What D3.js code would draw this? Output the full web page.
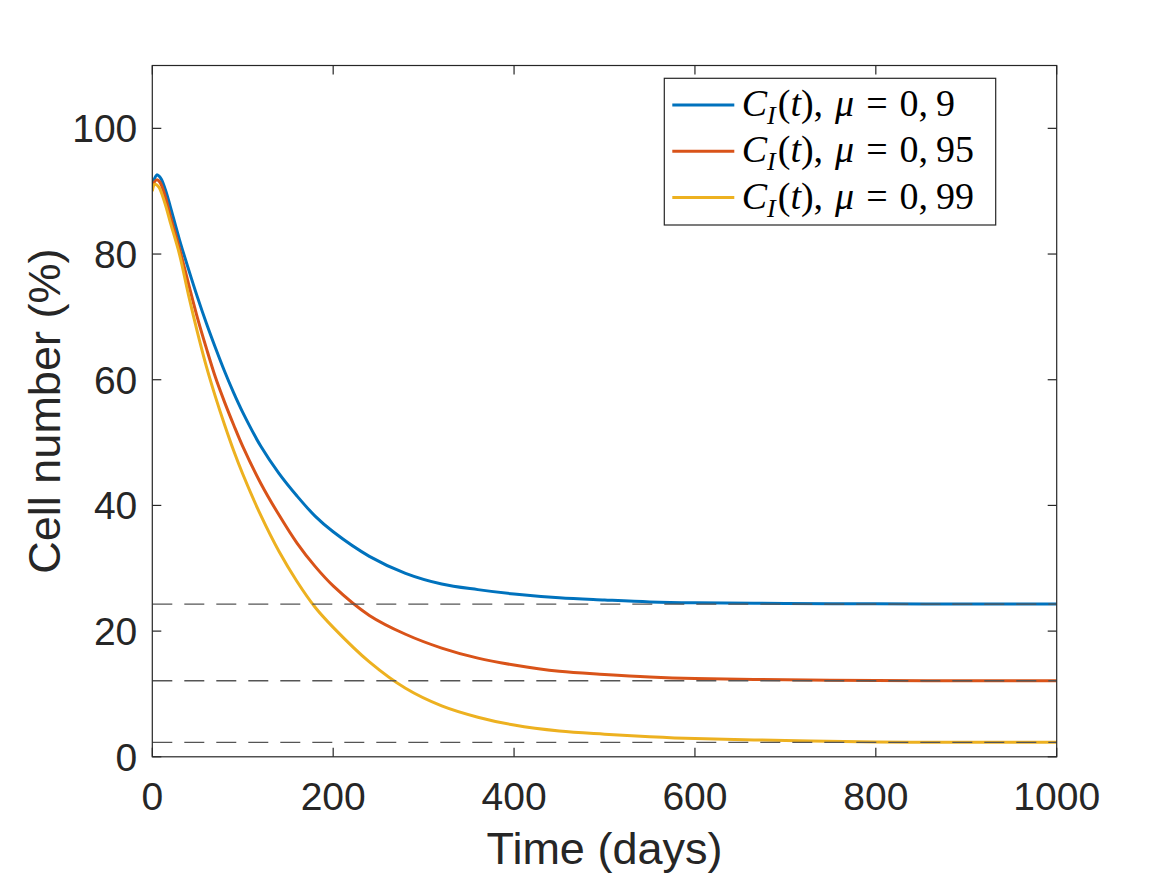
<!DOCTYPE html>
<html>
<head>
<meta charset="utf-8">
<script src="https://cdn.jsdelivr.net/npm/d3@7"></script>
<style>
  body { margin: 0; background: #fff; }
  svg { display: block; }
</style>
</head>
<body>
<svg id="chart" width="1167" height="875"></svg>
<script>
// values
const times = [0, 2.5, 5, 7.5, 10, 15, 20, 30, 40, 50, 60, 70, 80, 90, 100, 120, 140, 160, 180, 200,
               240, 280, 320, 360, 400, 450, 500, 550, 600, 700, 800, 900, 1000];

const mu90 = [90.8, 92.0, 92.6, 92.4, 91.9, 90.0, 87.5, 82.3, 77.6, 73.1, 68.9, 65.0, 61.3, 57.9, 54.8, 49.4, 45.1, 41.5, 38.3, 35.8,
              31.9, 29.2, 27.5, 26.6, 25.9, 25.3, 24.95, 24.65, 24.5, 24.4, 24.35, 24.3, 24.3];
const mu95 = [90.4, 91.5, 91.8, 91.6, 91.0, 88.8, 86.0, 80.9, 75.3, 69.8, 64.9, 60.3, 56.4, 52.8, 49.4, 43.5, 38.5, 34.0, 30.3, 27.2,
              22.5, 19.5, 17.3, 15.7, 14.6, 13.6, 13.1, 12.7, 12.45, 12.25, 12.15, 12.1, 12.1];
const mu99 = [90.0, 91.1, 91.0, 90.6, 89.8, 87.6, 85.0, 80.0, 73.5, 67.5, 62.0, 57.2, 52.8, 48.7, 45.0, 38.4, 32.7, 27.9, 23.8, 20.6,
              15.1, 10.9, 8.1, 6.3, 5.05, 4.1, 3.6, 3.2, 2.9, 2.6, 2.35, 2.3, 2.3];

const muDecimals = ["9", "95", "99"];
const steadyStates = [24.3, 12.1, 2.3];
const colors = ["#0072BD", "#D95319", "#EDB120"];

const xTicks = [0, 200, 400, 600, 800, 1000];
const yTicks = [0, 20, 40, 60, 80, 100];

const series = [mu90, mu95, mu99];

const svg = d3.select("#chart");

const plotLeft = 152.3, plotRight = 1056.7, plotTop = 65.5, plotBottom = 756.8;

const x = d3.scaleLinear().domain([0, 1000]).range([plotLeft, plotRight]);
const y = d3.scaleLinear().domain([0, 110]).range([plotBottom, plotTop]);

const axisColor = "#262626";
const tickFont = "'Liberation Sans', Arial, Helvetica, sans-serif";

svg.append("defs")
  .append("clipPath")
  .attr("id", "plot-clip")
  .append("rect")
  .attr("x", plotLeft)
  .attr("y", plotTop)
  .attr("width", plotRight - plotLeft)
  .attr("height", plotBottom - plotTop);

const plot = svg.append("g").attr("clip-path", "url(#plot-clip)");

const line = d3.line()
  .x((d, i) => x(times[i]))
  .y(d => y(d))
  .curve(d3.curveCatmullRom.alpha(0.5));

plot.selectAll("path.curve")
  .data(series)
  .join("path")
  .attr("class", "curve")
  .attr("d", line)
  .attr("fill", "none")
  .attr("stroke", (d, i) => colors[i])
  .attr("stroke-width", 3);

// steady state dashed lines, drawn over the curves
plot.selectAll("line.steady")
  .data(steadyStates)
  .join("line")
  .attr("class", "steady")
  .attr("x1", x(0))
  .attr("x2", x(1000))
  .attr("y1", d => y(d))
  .attr("y2", d => y(d))
  .attr("stroke", "#555")
  .attr("stroke-width", 1.3)
  .attr("stroke-dasharray", "20,12");

// box with inward ticks on all four sides
const tickLen = 9;
const axes = svg.append("g").attr("stroke", axisColor).attr("stroke-width", 1.2);

axes.append("rect")
  .attr("x", plotLeft)
  .attr("y", plotTop)
  .attr("width", plotRight - plotLeft)
  .attr("height", plotBottom - plotTop)
  .attr("fill", "none");

xTicks.forEach(t => {
  axes.append("line").attr("x1", x(t)).attr("x2", x(t)).attr("y1", plotBottom).attr("y2", plotBottom - tickLen);
  axes.append("line").attr("x1", x(t)).attr("x2", x(t)).attr("y1", plotTop).attr("y2", plotTop + tickLen);
});
yTicks.forEach(v => {
  axes.append("line").attr("x1", plotLeft).attr("x2", plotLeft + tickLen).attr("y1", y(v)).attr("y2", y(v));
  axes.append("line").attr("x1", plotRight).attr("x2", plotRight - tickLen).attr("y1", y(v)).attr("y2", y(v));
});

svg.append("g")
  .selectAll("text")
  .data(xTicks)
  .join("text")
  .attr("x", d => x(d))
  .attr("y", plotBottom + 53)
  .attr("text-anchor", "middle")
  .attr("font-family", tickFont)
  .attr("font-size", 39)
  .attr("fill", axisColor)
  .text(d => d);

svg.append("g")
  .selectAll("text")
  .data(yTicks)
  .join("text")
  .attr("x", plotLeft - 15)
  .attr("y", d => y(d) + 14)
  .attr("text-anchor", "end")
  .attr("font-family", tickFont)
  .attr("font-size", 39)
  .attr("fill", axisColor)
  .text(d => d);

svg.append("text")
  .attr("x", (plotLeft + plotRight) / 2)
  .attr("y", 864)
  .attr("text-anchor", "middle")
  .attr("font-family", tickFont)
  .attr("font-size", 45)
  .attr("fill", axisColor)
  .text("Time (days)");

svg.append("text")
  .attr("transform", `translate(60,${(plotTop + plotBottom) / 2}) rotate(-90)`)
  .attr("text-anchor", "middle")
  .attr("font-family", tickFont)
  .attr("font-size", 45)
  .attr("fill", axisColor)
  .text("Cell number (%)");

// legend
const legend = svg.append("g");
legend.append("rect")
  .attr("x", 664.3)
  .attr("y", 78.3)
  .attr("width", 331.4)
  .attr("height", 146.7)
  .attr("fill", "#fff")
  .attr("stroke", axisColor)
  .attr("stroke-width", 1.2);

const rows = legend.selectAll("g.row")
  .data(muDecimals)
  .join("g")
  .attr("class", "row")
  .attr("transform", (d, i) => `translate(0,${105 + i * 46.3})`);

rows.append("line")
  .attr("x1", 672.3)
  .attr("x2", 734.3)
  .attr("stroke", (d, i) => colors[i])
  .attr("stroke-width", 3);

const label = rows.append("text")
  .attr("x", 741.7)
  .attr("y", 11)
  .attr("font-family", "'Liberation Serif', 'Times New Roman', serif")
  .attr("font-size", 38)
  .attr("fill", "#000");

label.append("tspan").attr("font-style", "italic").text("C");
label.append("tspan").attr("font-style", "italic").attr("font-size", 26).attr("dy", 8).text("I");
label.append("tspan").attr("dy", -8).attr("dx", 2).text("(");
label.append("tspan").attr("font-style", "italic").text("t");
label.append("tspan").text("),");
label.append("tspan").attr("font-style", "italic").attr("dx", 12).text("μ");
label.append("tspan").attr("dx", 12).text("=");
label.append("tspan").attr("dx", 12).text("0,");
label.append("tspan").attr("dx", 8).text(d => d);
</script>
</body>
</html>
